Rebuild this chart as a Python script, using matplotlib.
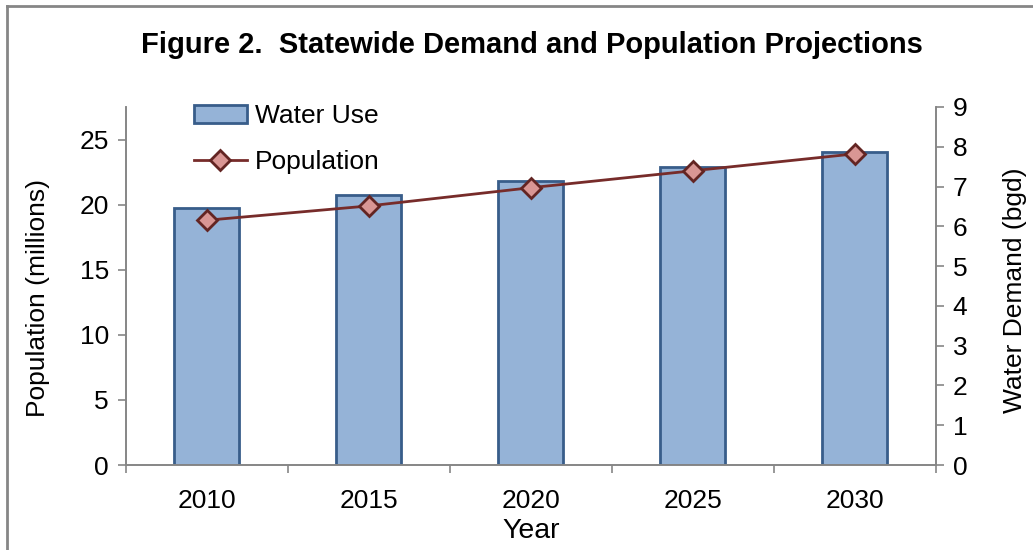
import numpy as np
import matplotlib.pyplot as plt
from matplotlib.lines import Line2D

years = ["2010", "2015", "2020", "2025", "2030"]
water_use = [6.47, 6.78, 7.15, 7.50, 7.87]   # bgd, right axis
population = [18.8, 19.9, 21.3, 22.6, 23.9]  # millions, left axis

plt.rcParams['font.family'] = ['Liberation Sans', 'DejaVu Sans']

fig = plt.figure(figsize=(10.33, 5.5), dpi=100)
ax = fig.add_axes([0.1217, 0.1545, 0.7843, 0.651])
ax2 = ax.twinx()

x = np.arange(len(years))
gray = "#868686"

ax2.bar(x, water_use, width=0.4, color="#95B3D7", edgecolor="#385D8A",
        linewidth=2, label="Water Use")
ax.plot(x, population, color="#772C2A", linewidth=2, marker="D", markersize=10,
        markerfacecolor="#D99694", markeredgecolor="#632523", markeredgewidth=2,
        label="Population")

ax.set_zorder(ax2.get_zorder() + 1)
ax.patch.set_visible(False)

ax.set_xlim(-0.5, len(years) - 0.5)
ax.set_ylim(0, 27.5)
ax2.set_ylim(0, 9)
ax.set_yticks(np.arange(0, 26, 5))
ax2.set_yticks(np.arange(0, 10, 1))

ax.set_xticks(x)
ax.set_xticklabels(years)
ax.set_xticks(np.arange(-0.5, len(years), 1), minor=True)
ax.tick_params(axis="x", which="major", length=0, pad=17, labelsize=19)
ax.tick_params(axis="x", which="minor", length=6, color=gray, width=1.2)
ax.tick_params(axis="y", length=6, color=gray, width=1.2, labelsize=19, pad=6)
ax2.tick_params(axis="y", length=6, color=gray, width=1.2, labelsize=19, pad=6)

for a in (ax, ax2):
    a.spines["top"].set_visible(False)
    for s in ("left", "right", "bottom"):
        a.spines[s].set_color(gray)
        a.spines[s].set_linewidth(1.2)

# axis titles placed like the original chart
fig.text(38 / 1033, 1 - 298 / 550, "Population (millions)", rotation=90,
         ha="center", va="center", fontsize=19)
fig.text(1015 / 1033, 1 - 290 / 550, "Water Demand (bgd)", rotation=90,
         ha="center", va="center", fontsize=19)
ax.set_xlabel("Year", fontsize=20.5, labelpad=4)

fig.text(0.515, 0.918, "Figure 2.  Statewide Demand and Population Projections",
         ha="center", va="center", fontsize=21, fontweight="bold")

h1, l1 = ax2.get_legend_handles_labels()
h2, l2 = ax.get_legend_handles_labels()
ax.legend(h1 + h2, l1 + l2, loc="upper left", bbox_to_anchor=(0.055, 1.074),
          frameon=False, fontsize=19, handlelength=2.0, handletextpad=0.3,
          labelspacing=0.83)

# outer chart frame (top and left visible)
fig.add_artist(Line2D([7 / 1033, 1], [1 - 6 / 550, 1 - 6 / 550], color=gray, linewidth=2))
fig.add_artist(Line2D([7 / 1033, 7 / 1033], [0, 1 - 6 / 550], color=gray, linewidth=2))

plt.savefig("out.png", dpi=100)
